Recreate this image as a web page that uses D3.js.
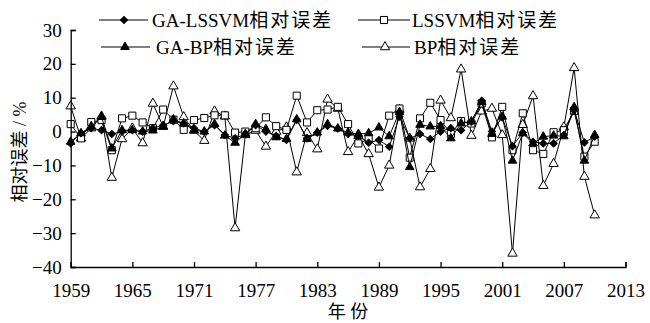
<!DOCTYPE html>
<html>
<head>
<meta charset="utf-8">
<script src="https://cdn.jsdelivr.net/npm/d3@7"></script>
<style>
  body { margin: 0; background: #fff; }
  text { font-family: "Liberation Serif", "Noto Sans CJK SC", serif; fill: #000; }
</style>
</head>
<body>
<svg id="chart"></svg>
<script>
const years = d3.range(1959, 2011);
const xTicks = [1959, 1965, 1971, 1977, 1983, 1989, 1995, 2001, 2007, 2013];
const yTicks = [-40, -30, -20, -10, 0, 10, 20, 30];

const gaLssvm = [-3.5, -0.5, 1, 0.4, -0.7, 0, 0.4, 0, 1, 1.9, 3.1, 2.4, 1, 0, 1.9, -1, -2, -0.7,
  1.9, 0, -1.3, -2.5, 3.4, -2, -0.3, 1.7, 0.9, -0.7, -1.3, -3.3, -2.5, -4.5, 4.4, -2, -0.7, -2.2,
  0, 1, 0.4, 2.9, 9.1, 0, 4.2, -4.3, -0.3, -3, -3.5, -3.5, -1, 6.3, -3.2, -1.5];
const lssvm = [2.2, -2, 2.8, 3.4, -5.5, 3.9, 4.7, 2.7, 1, 6.5, 3.5, 0.5, 3.4, 4, 4.8, 4.8, -0.3, 0,
  1, 4.2, 1.6, 0.5, 10.6, 2.7, 6.3, 6.5, 7.3, 2.2, -3.5, -2.2, -5, 4.7, 6.8, -7.7, 3.9, 8.5,
  3.4, -0.7, 3.1, 2.4, 8.3, -1.7, 7.3, -5.5, 5.4, -5.5, -6.6, -0.2, 0.4, 6.1, -7.4, -3];
const gaBp = [-3, -0.5, 1.6, 4.3, -5, 0.4, 0.4, 0, 0.3, 1.4, 3.6, 2.4, 0.4, 0, 2.2, -1.2, -3.3, -0.7,
  2.2, 0.7, -1.7, -2.2, 3.6, -2.2, -0.3, 2.2, 0.9, -0.3, -0.7, -0.5, 1.2, -1.4, 5.8, -10.5, 2, 1.5,
  1.6, -2, 2.4, 3, 8.7, -0.7, 4.4, -8.6, -0.5, -3.5, -1.5, -1.2, -1.4, 7.2, -8.6, -1];
const bp = [7.5, -2, 1, 4.5, -13.6, -2.2, 1, -3.4, 8.3, 1.5, 13.4, 4.3, 0.3, -2.7, 6, 4.5, -28.5, -1,
  0.3, -4.4, 0, 1.3, -12, -0.4, -5.2, 9.5, 6.8, -6, -1.2, -6.6, -16.5, -10, 6.5, -2, -16.4, -11,
  9.2, 4, 18.4, -1.2, 6, 6.8, -1, -36, 2, 10.5, -16, -9.5, 1.3, 18.8, -13.3, -24.7];

const names = ["GA-LSSVM相对误差", "LSSVM相对误差", "GA-BP相对误差", "BP相对误差"];

const width = 650, height = 323;
const svg = d3.select("#chart").attr("width", width).attr("height", height);

const x = d3.scaleLinear().domain([1959, 2013]).range([70.7, 625.5]);
const y = d3.scaleLinear().domain([-40, 30]).range([267, 30]);

// marker styles for each series
const styles = [
  { type: d3.symbolSquare, size: 26, rotate: 45, fill: "#000" },
  { type: d3.symbolSquare, size: 50, rotate: 0, fill: "#fff" },
  { type: d3.symbolTriangle, size: 32, rotate: 0, fill: "#000" },
  { type: d3.symbolTriangle, size: 38, rotate: 0, fill: "#fff" }
];
const series = [gaLssvm, lssvm, gaBp, bp];

const line = d3.line().x((d, i) => x(years[i])).y(d => y(d));

// draw BP first so the GA series stay on top
[3, 1, 2, 0].forEach(k => {
  const g = svg.append("g");
  g.append("path")
    .datum(series[k])
    .attr("fill", "none")
    .attr("stroke", "#000")
    .attr("stroke-width", 1)
    .attr("d", line);
  const st = styles[k];
  g.selectAll("path.m")
    .data(series[k])
    .join("path")
    .attr("class", "m")
    .attr("transform", (d, i) => `translate(${x(years[i])},${y(d)}) rotate(${st.rotate})`)
    .attr("d", d3.symbol().type(st.type).size(st.size))
    .attr("fill", st.fill)
    .attr("stroke", "#000")
    .attr("stroke-width", 1);
});

// axes with inward ticks
const xAxis = svg.append("g")
  .attr("transform", `translate(0,${y(-40)})`)
  .call(d3.axisBottom(x).tickValues(xTicks).tickFormat(d3.format("d")).tickSize(-5).tickPadding(16.5));
const yAxis = svg.append("g")
  .attr("transform", `translate(${x(1959)},0)`)
  .call(d3.axisLeft(y).tickValues(yTicks).tickSize(-5).tickPadding(9));

[xAxis, yAxis].forEach(a => {
  a.selectAll("path, line").attr("stroke", "#000").attr("stroke-width", 1.3);
  a.selectAll("text").attr("font-size", 19).attr("font-family", "Liberation Serif");
});

svg.append("text")
  .attr("x", 348).attr("y", 318)
  .attr("text-anchor", "middle")
  .attr("font-size", 18)
  .text("年 份");

svg.append("text")
  .attr("transform", "translate(26,152) rotate(-90)")
  .attr("text-anchor", "middle")
  .attr("font-size", 18)
  .text("相对误差 / %");

// legend
const legendPos = [
  { x0: 99, x1: 148, mx: 124, tx: 152, y: 20 },
  { x0: 358, x1: 410, mx: 384, tx: 412, y: 20 },
  { x0: 101, x1: 150, mx: 125, tx: 156, y: 47 },
  { x0: 362, x1: 410, mx: 385, tx: 414, y: 47 }
];
legendPos.forEach((p, k) => {
  const g = svg.append("g");
  g.append("line")
    .attr("x1", p.x0).attr("x2", p.x1).attr("y1", p.y).attr("y2", p.y)
    .attr("stroke", "#000").attr("stroke-width", 1);
  const st = styles[k];
  g.append("path")
    .attr("transform", `translate(${p.mx},${p.y}) rotate(${st.rotate})`)
    .attr("d", d3.symbol().type(st.type).size(st.size))
    .attr("fill", st.fill).attr("stroke", "#000").attr("stroke-width", 1);
  const t = g.append("text")
    .attr("x", p.tx).attr("y", p.y + 6.5)
    .attr("font-size", 19);
  const latin = names[k].replace("相对误差", "");
  t.append("tspan").text(latin);
  t.append("tspan").attr("letter-spacing", 2).text("相对误差");
});
</script>
</body>
</html>
